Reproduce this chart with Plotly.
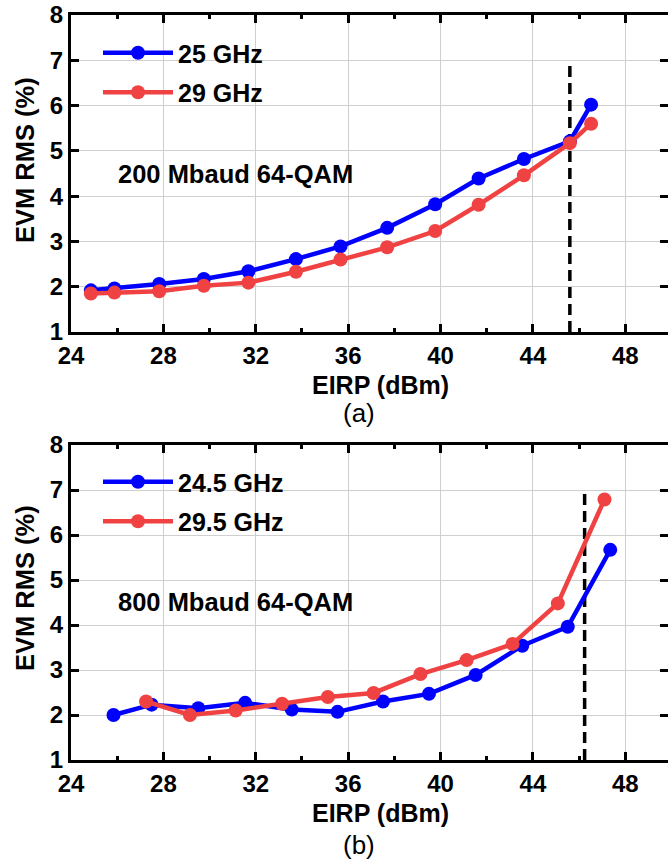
import plotly.graph_objects as go

# ---------------- data ----------------
# (a) 200 Mbaud 64-QAM
a_x_25 = [24.86, 25.88, 27.82, 29.75, 31.68, 33.74, 35.67, 37.69, 39.77, 41.65, 43.61, 45.6, 46.52]
a_y_25 = [1.92, 1.96, 2.06, 2.17, 2.34, 2.61, 2.89, 3.30, 3.82, 4.39, 4.82, 5.21, 6.02]
a_x_29 = [24.86, 25.88, 27.82, 29.75, 31.68, 33.74, 35.67, 37.69, 39.77, 41.65, 43.61, 45.6, 46.52]
a_y_29 = [1.85, 1.87, 1.90, 2.02, 2.09, 2.33, 2.60, 2.87, 3.23, 3.81, 4.46, 5.17, 5.60]
a_dash_x = [45.6, 45.6]
a_dash_y = [1.0, 6.88]

# (b) 800 Mbaud 64-QAM
b_x_245 = [25.84, 27.49, 29.51, 31.54, 33.56, 35.54, 37.51, 39.50, 41.52, 43.54, 45.51, 47.35]
b_y_245 = [2.00, 2.23, 2.15, 2.27, 2.12, 2.07, 2.30, 2.47, 2.89, 3.54, 3.96, 5.67]
b_x_295 = [27.25, 29.15, 31.13, 33.14, 35.12, 37.10, 39.13, 41.13, 43.12, 45.08, 47.10]
b_y_295 = [2.30, 2.00, 2.10, 2.25, 2.40, 2.49, 2.91, 3.22, 3.58, 4.48, 6.79]
b_dash_x = [46.24, 46.24]
b_dash_y = [1.0, 6.93]

x_ticks = [24, 28, 32, 36, 40, 44, 48]
y_ticks = [1, 2, 3, 4, 5, 6, 7, 8]

labels_a = ["25 GHz", "29 GHz"]
labels_b = ["24.5 GHz", "29.5 GHz"]
notes = ["200 Mbaud 64-QAM", "800 Mbaud 64-QAM"]
panel_tags = ["(a)", "(b)"]
x_title = "EIRP (dBm)"
y_title = "EVM RMS (%)"

# ---------------- style ----------------
W, H = 668, 865
BLUE = "#0000FF"
RED = "#F04242"
FONT = "Liberation Sans, Arial, sans-serif"

def px_x(p):
    return p / W

def px_y(p):
    return 1 - p / H

fig = go.Figure()

def add_panel(xa, ya, xs1, ys1, xs2, ys2, dx, dy, names, legend):
    fig.add_trace(go.Scatter(x=dx, y=dy, mode="lines", xaxis=xa, yaxis=ya,
                             line=dict(color="black", width=3.5, dash="11px,6px"),
                             showlegend=False, hoverinfo="skip"))
    fig.add_trace(go.Scatter(x=xs1, y=ys1, mode="lines+markers", name=names[0],
                             xaxis=xa, yaxis=ya, legend=legend, legendgroup=names[0],
                             line=dict(color=BLUE, width=4.5),
                             marker=dict(color=BLUE, size=14)))
    fig.add_trace(go.Scatter(x=xs2, y=ys2, mode="lines+markers", name=names[1],
                             xaxis=xa, yaxis=ya, legend=legend, legendgroup=names[1],
                             line=dict(color=RED, width=4.5),
                             marker=dict(color=RED, size=14)))

add_panel("x", "y", a_x_25, a_y_25, a_x_29, a_y_29, a_dash_x, a_dash_y, labels_a, "legend")
add_panel("x2", "y2", b_x_245, b_y_245, b_x_295, b_y_295, b_dash_x, b_dash_y, labels_b, "legend2")

xdom = [px_x(71), 1.0]
ydom_a = [px_y(332), px_y(15)]
ydom_b = [px_y(760), px_y(445)]

TICKFONT = dict(family=FONT, size=24, color="black", weight="bold")

def xaxis_cfg(anchor):
    return dict(domain=xdom, anchor=anchor, range=[24, 49.85], tickvals=x_ticks,
                showline=True, linecolor="black", linewidth=3, mirror="ticks",
                ticks="inside", ticklen=8, tickwidth=2.5, tickcolor="black",
                minor=dict(ticks="inside", ticklen=4, tickwidth=2.5, dtick=2, tick0=24,
                           tickcolor="black", showgrid=False),
                showgrid=True, gridcolor="#cfcfcf", gridwidth=1, zeroline=False,
                tickfont=TICKFONT, automargin=False, fixedrange=True)

def yaxis_cfg(anchor, dom):
    return dict(domain=dom, anchor=anchor, range=[1, 8], tickvals=y_ticks,
                showline=True, linecolor="black", linewidth=3, mirror="ticks",
                ticks="inside", ticklen=8, tickwidth=2.5, tickcolor="black",
                showgrid=True, gridcolor="#cfcfcf", gridwidth=1, zeroline=False,
                tickfont=TICKFONT, automargin=False, fixedrange=True)

leg_font = dict(family=FONT, size=25, color="black", weight="bold")

fig.update_layout(
    width=W, height=H,
    margin=dict(l=0, r=0, t=0, b=0),
    paper_bgcolor="white", plot_bgcolor="white",
    xaxis=xaxis_cfg("y"), yaxis=yaxis_cfg("x", ydom_a),
    xaxis2=xaxis_cfg("y2"), yaxis2=yaxis_cfg("x2", ydom_b),
    legend=dict(x=px_x(98), y=px_y(30), xanchor="left", yanchor="top",
                bgcolor="rgba(0,0,0,0)", font=leg_font, itemwidth=70,
                traceorder="grouped", tracegroupgap=4),
    legend2=dict(x=px_x(98), y=px_y(459), xanchor="left", yanchor="top",
                 bgcolor="rgba(0,0,0,0)", font=leg_font, itemwidth=70,
                 traceorder="grouped", tracegroupgap=4),
    showlegend=True,
)

ann_bold = dict(family=FONT, size=25.5, color="black", weight="bold")
anns = []
for note, yc in zip(notes, [174, 602]):
    anns.append(dict(text=note, x=px_x(116), y=px_y(yc), xref="paper", yref="paper",
                     xanchor="left", yanchor="middle", showarrow=False, font=ann_bold))
for yc in [385, 813]:
    anns.append(dict(text=x_title, x=px_x(380), y=px_y(yc), xref="paper", yref="paper",
                     xanchor="center", yanchor="middle", showarrow=False,
                     font=dict(family=FONT, size=25, color="black", weight="bold")))
for tag, yc in zip(panel_tags, [413, 845]):
    anns.append(dict(text=tag, x=px_x(359), y=px_y(yc), xref="paper", yref="paper",
                     xanchor="center", yanchor="middle", showarrow=False,
                     font=dict(family=FONT, size=26, color="black")))
for yc in [160, 588]:
    anns.append(dict(text=y_title, x=px_x(25), y=px_y(yc), xref="paper", yref="paper",
                     xanchor="center", yanchor="middle", showarrow=False, textangle=-90,
                     font=dict(family=FONT, size=25.5, color="black", weight="bold")))
fig.update_layout(annotations=anns)

fig.write_html("out.html")
